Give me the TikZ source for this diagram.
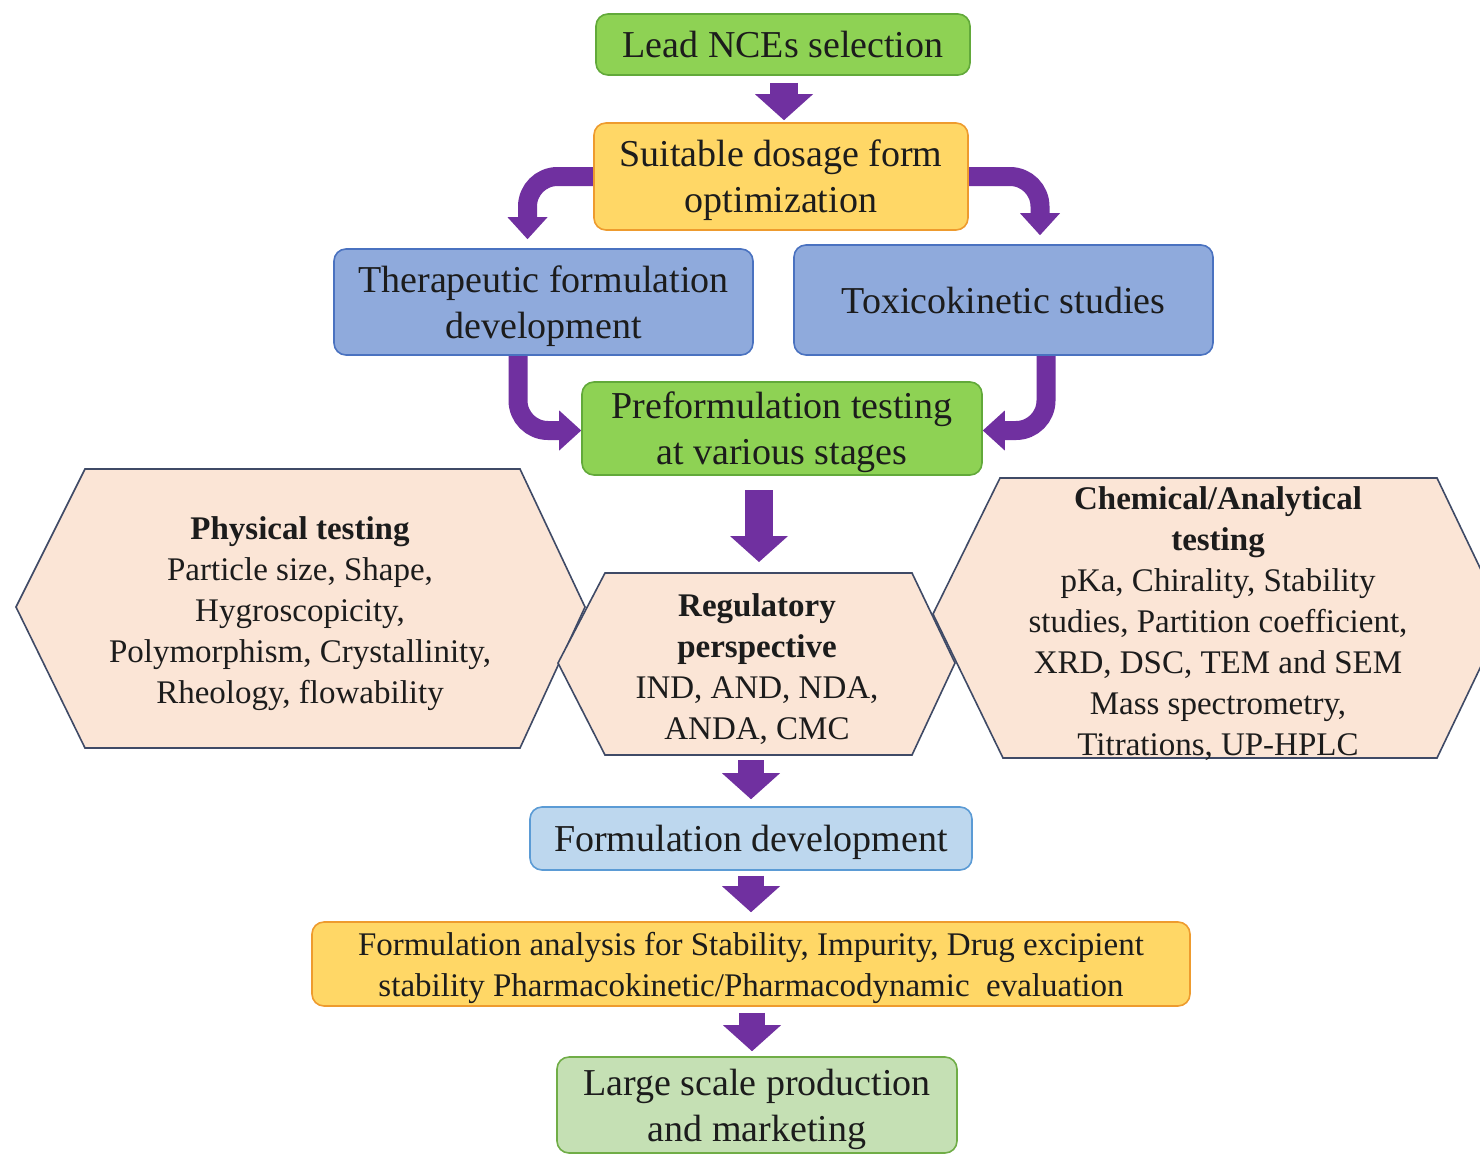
\documentclass[tikz,border=0pt]{standalone}
\usepackage{fontspec}
\setmainfont{Liberation Serif}
\usetikzlibrary{arrows.meta,calc}
\definecolor{pur}{HTML}{7030A0}
\definecolor{txt}{HTML}{1C1C1C}
\definecolor{gfill}{HTML}{8ED254}
\definecolor{gdraw}{HTML}{62A93A}
\definecolor{ofill}{HTML}{FFD766}
\definecolor{odraw}{HTML}{EE9B2E}
\definecolor{bfill}{HTML}{8FAADC}
\definecolor{bdraw}{HTML}{4A72C0}
\definecolor{lbfill}{HTML}{BDD7EE}
\definecolor{lbdraw}{HTML}{5B9BD5}
\definecolor{lgfill}{HTML}{C5E0B4}
\definecolor{lgdraw}{HTML}{70AD47}
\definecolor{pfill}{HTML}{FBE5D6}
\definecolor{pdraw}{HTML}{3F4A66}
\pgfdeclarelayer{bg}
\pgfsetlayers{bg,main}
\tikzset{
  box/.style={rounded corners=12pt, line width=1.6pt, align=center, inner sep=0pt,
    font=\fontsize{38}{46}\selectfont, text=txt, text depth=0pt},
  greenbox/.style={box, fill=gfill, draw=gdraw},
  orangebox/.style={box, fill=ofill, draw=odraw},
  bluebox/.style={box, fill=bfill, draw=bdraw},
  lbluebox/.style={box, fill=lbfill, draw=lbdraw},
  lgreenbox/.style={box, fill=lgfill, draw=lgdraw},
  hexa/.style={fill=pfill, draw=pdraw, line width=1.6pt, line join=miter},
  hextext/.style={align=center, inner sep=0pt, font=\fontsize{33}{41}\selectfont, text=txt},
  sarrow/.style={draw=pur, line width=28pt, -{Triangle[width=58pt,length=26pt,line width=0pt]}},
  carrow/.style={draw=pur, line width=19pt, rounded corners=30pt, -{Triangle[width=40pt,length=22pt,line width=0pt]}}
}
\begin{document}
\begin{tikzpicture}[x=1pt,y=-1pt]
\useasboundingbox (0,0) rectangle (1480,1154);
\clip (0,0) rectangle (1480,1154);
\begin{pgfonlayer}{bg}
\fill[white] (0,0) rectangle (1480,1154);
\end{pgfonlayer}

% hexagons
\draw[hexa] (16,607) -- (85,469) -- (520,469) -- (585,607) -- (520,748) -- (85,748) -- cycle;
\draw[hexa] (558,663) -- (605,573) -- (912,573) -- (955,663) -- (912,755) -- (605,755) -- cycle;
\draw[hexa] (933,614) -- (1000,478) -- (1437,478) -- (1504,618) -- (1437,758) -- (1003,758) -- cycle;
\coordinate (regtop) at (759,573);
\coordinate (regbot) at (751,755);

\node[hextext] (phys) at (300,614) {\textbf{Physical testing}\\Particle size, Shape,\\Hygroscopicity,\\Polymorphism,\ Crystallinity,\\Rheology,\ flowability};
\node[hextext] (reg) at (757,669) {\textbf{Regulatory}\\\textbf{perspective}\\IND, AND, NDA,\\ANDA, CMC};
\node[hextext] (chem) at (1218,624) {\textbf{Chemical/Analytical}\\\textbf{testing}\\pKa, Chirality, Stability\\studies,\ Partition coefficient,\\XRD, DSC, TEM and SEM\\Mass spectrometry,\\Titrations,\ UP-HPLC};

% boxes
\node[greenbox, minimum width=374pt, minimum height=61pt] (lead) at (783,44.5) {Lead NCEs selection};
\node[orangebox, minimum width=374pt, minimum height=107pt] (suit) at (781,176.5) {Suitable dosage form\\optimization};
\node[bluebox, minimum width=419pt, minimum height=106pt] (ther) at (543.5,302) {Therapeutic formulation\\development};
\node[bluebox, minimum width=419pt, minimum height=110pt] (toxi) at (1003.5,300) {Toxicokinetic studies};
\node[greenbox, minimum width=400pt, minimum height=93pt] (pref) at (782,428.5) {Preformulation testing\\at various stages};
\node[lbluebox, minimum width=442pt, minimum height=63pt] (fdev) at (751,838.5) {Formulation development};
\node[orangebox, minimum width=878pt, minimum height=84pt, font=\fontsize{33}{41}\selectfont] (fana) at (751,964) {Formulation analysis for Stability, Impurity, Drug excipient\\stability Pharmacokinetic/Pharmacodynamic\ \ evaluation};
\node[lgreenbox, minimum width=400pt, minimum height=96pt] (large) at (757,1105) {Large scale production\\and marketing};

% arrows
\begin{pgfonlayer}{bg}
\draw[sarrow] ($(lead.south)+(1,7)$) -- ($(lead.south |- suit.north)+(1,-2)$);
\draw[carrow] ([xshift=12pt]suit.west) -| ([xshift=-16pt,yshift=9pt]ther.north);
\draw[carrow] ([xshift=-12pt]suit.east) -| ([xshift=36.5pt,yshift=9pt]toxi.north);
\draw[carrow] ([xshift=-25.5pt,yshift=6pt]ther.south) |- ([yshift=-2pt]pref.west);
\draw[carrow] ([xshift=42.5pt,yshift=6pt]toxi.south) |- ([yshift=-2pt]pref.east);
\draw[sarrow] ($(regtop)+(0,-83)$) -- ($(regtop)+(0,-11)$);
\draw[sarrow, line width=26pt] ($(regbot)+(0,5)$) -- ($(regbot |- fdev.north)+(0,-7)$);
\draw[sarrow, line width=26pt] ($(fdev.south)+(0,5)$) -- ($(fdev.south |- fana.north)+(0,-9)$);
\draw[sarrow, line width=26pt] ($(fana.south)+(1,6)$) -- ($(fana.south |- large.north)+(1,-5)$);
\end{pgfonlayer}
\end{tikzpicture}
\end{document}
